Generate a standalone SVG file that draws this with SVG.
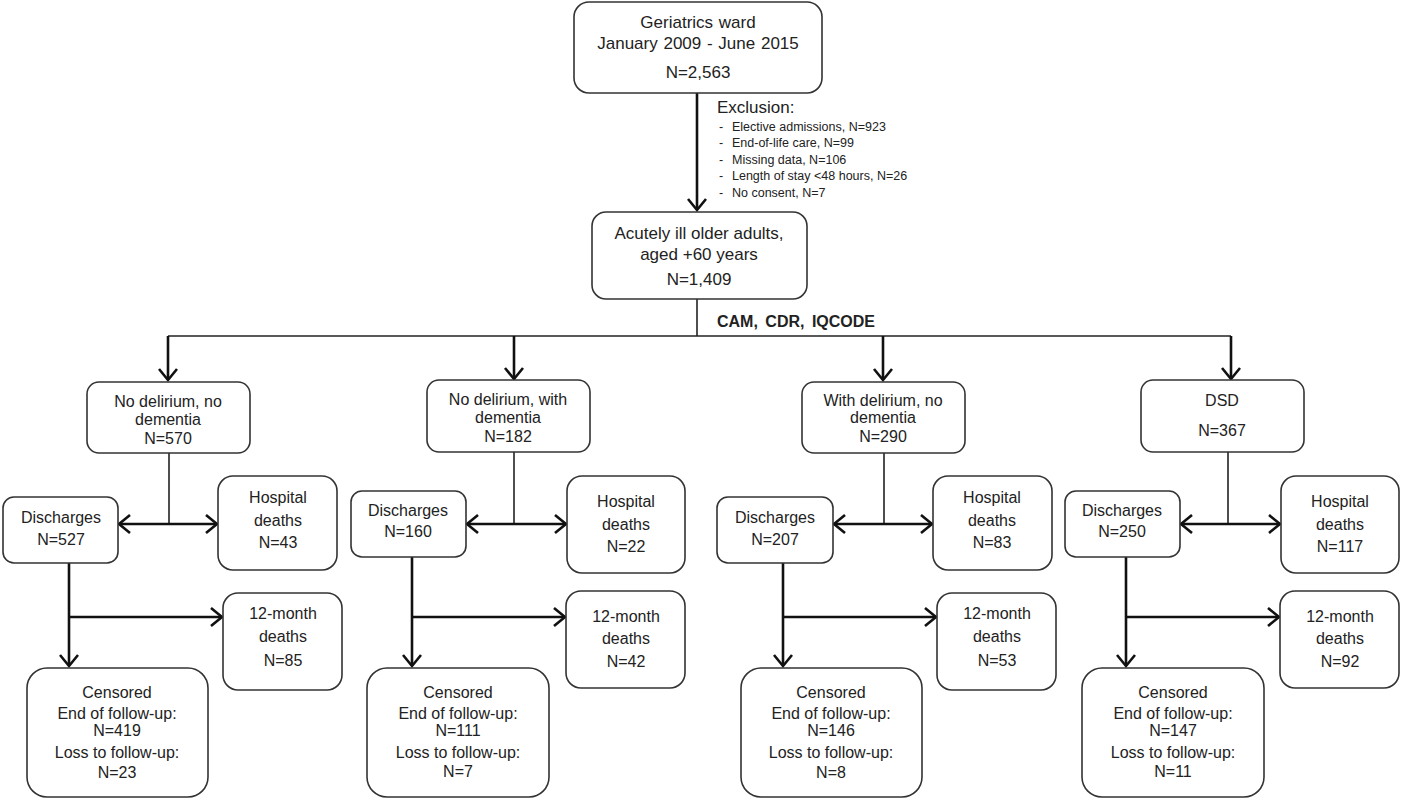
<svg xmlns="http://www.w3.org/2000/svg" width="1403" height="800" viewBox="0 0 1403 800">
<defs>
<style>
.box{fill:#fff;stroke:#333;stroke-width:1.6}
.t{font-family:"Liberation Sans",Arial,sans-serif;font-size:16px;fill:#222;text-anchor:middle}
.tl{font-family:"Liberation Sans",Arial,sans-serif;fill:#222}
.thick{stroke:#111;stroke-width:2.6;fill:none}
.thin{stroke:#222;stroke-width:1.6;fill:none}
</style>
<marker id="ah" markerUnits="userSpaceOnUse" markerWidth="24" markerHeight="24" refX="12" refY="12" orient="auto" viewBox="0 0 24 24">
<path d="M1,3 L12,12 L1,21" fill="none" stroke="#111" stroke-width="2.6"/>
</marker>
</defs>
<rect width="1403" height="800" fill="#fff"/>

<g id="connectors">
<line class="thick" x1="697" y1="93" x2="697" y2="210" marker-end="url(#ah)"/>
<line class="thin" x1="697" y1="299" x2="697" y2="336"/>
<line class="thin" x1="168" y1="336" x2="1231" y2="336"/>
<line class="thick" x1="168" y1="336" x2="168" y2="380" marker-end="url(#ah)"/>
<line class="thick" x1="514" y1="336" x2="514" y2="379" marker-end="url(#ah)"/>
<line class="thick" x1="883" y1="336" x2="883" y2="380" marker-end="url(#ah)"/>
<line class="thick" x1="1231" y1="336" x2="1231" y2="379" marker-end="url(#ah)"/>
<line class="thin" x1="169" y1="453" x2="169" y2="524"/>
<line class="thick" x1="169" y1="524" x2="119" y2="524" marker-end="url(#ah)"/>
<line class="thick" x1="169" y1="524" x2="217" y2="524" marker-end="url(#ah)"/>
<line class="thick" x1="69" y1="563" x2="69" y2="666" marker-end="url(#ah)"/>
<line class="thick" x1="69" y1="617" x2="222" y2="617" marker-end="url(#ah)"/>
<line class="thin" x1="514" y1="452" x2="514" y2="524"/>
<line class="thick" x1="514" y1="524" x2="467" y2="524" marker-end="url(#ah)"/>
<line class="thick" x1="514" y1="524" x2="566" y2="524" marker-end="url(#ah)"/>
<line class="thick" x1="412" y1="557" x2="412" y2="666" marker-end="url(#ah)"/>
<line class="thick" x1="412" y1="617" x2="565" y2="617" marker-end="url(#ah)"/>
<line class="thin" x1="884" y1="453" x2="884" y2="524"/>
<line class="thick" x1="884" y1="524" x2="834" y2="524" marker-end="url(#ah)"/>
<line class="thick" x1="884" y1="524" x2="932" y2="524" marker-end="url(#ah)"/>
<line class="thick" x1="783" y1="563" x2="783" y2="666" marker-end="url(#ah)"/>
<line class="thick" x1="783" y1="617" x2="936" y2="617" marker-end="url(#ah)"/>
<line class="thin" x1="1228" y1="452" x2="1228" y2="524"/>
<line class="thick" x1="1228" y1="524" x2="1181" y2="524" marker-end="url(#ah)"/>
<line class="thick" x1="1228" y1="524" x2="1280" y2="524" marker-end="url(#ah)"/>
<line class="thick" x1="1126" y1="557" x2="1126" y2="666" marker-end="url(#ah)"/>
<line class="thick" x1="1126" y1="617" x2="1279" y2="617" marker-end="url(#ah)"/>
</g>

<g id="ward">
<rect class="box" x="574" y="2" width="248" height="91" rx="15"/>
<text class="t" x="698" y="28" style="font-size:17px" word-spacing="1">Geriatrics ward</text>
<text class="t" x="698" y="49" style="font-size:17px" word-spacing="1">January 2009 - June 2015</text>
<text class="t" x="698" y="78" style="font-size:17px">N=2,563</text>
</g>

<g id="exclusion">
<text class="tl" x="717" y="113" style="font-size:17px">Exclusion:</text>
<g style="font-size:12.5px">
<text class="tl" x="719" y="131">-</text><text class="tl" x="732" y="131">Elective admissions, N=923</text>
<text class="tl" x="719" y="147">-</text><text class="tl" x="732" y="147">End-of-life care, N=99</text>
<text class="tl" x="719" y="164">-</text><text class="tl" x="732" y="164">Missing data, N=106</text>
<text class="tl" x="719" y="180">-</text><text class="tl" x="732" y="180">Length of stay &lt;48 hours, N=26</text>
<text class="tl" x="719" y="197">-</text><text class="tl" x="732" y="197">No consent, N=7</text>
</g>
</g>

<g id="acute">
<rect class="box" x="592" y="212" width="215" height="87" rx="14"/>
<text class="t" x="699" y="239" style="font-size:17px">Acutely ill older adults,</text>
<text class="t" x="699" y="260" style="font-size:17px">aged +60 years</text>
<text class="t" x="699" y="285" style="font-size:17px">N=1,409</text>
</g>

<text class="tl" x="717" y="327" style="font-size:16px;font-weight:bold" word-spacing="3">CAM, CDR, IQCODE</text>

<g id="g1">
<rect class="box" x="87" y="382" width="163" height="71" rx="12"/>
<text class="t" x="168" y="407">No delirium, no</text>
<text class="t" x="168" y="425">dementia</text>
<text class="t" x="168" y="444">N=570</text>
</g>
<g id="d1">
<rect class="box" x="3" y="497" width="115" height="66" rx="11"/>
<text class="t" x="61" y="523">Discharges</text>
<text class="t" x="61" y="545">N=527</text>
</g>
<g id="h1">
<rect class="box" x="218" y="476" width="119" height="94" rx="15"/>
<text class="t" x="278" y="503">Hospital</text>
<text class="t" x="278" y="526">deaths</text>
<text class="t" x="278" y="548">N=43</text>
</g>
<g id="m1">
<rect class="box" x="223" y="593" width="119" height="97" rx="15"/>
<text class="t" x="283" y="619">12-month</text>
<text class="t" x="283" y="642">deaths</text>
<text class="t" x="283" y="666">N=85</text>
</g>
<g id="c1">
<rect class="box" x="27" y="668" width="181" height="129" rx="20"/>
<text class="t" x="117" y="698">Censored</text>
<text class="t" x="117" y="719">End of follow-up:</text>
<text class="t" x="117" y="736">N=419</text>
<text class="t" x="117" y="758">Loss to follow-up:</text>
<text class="t" x="117" y="778">N=23</text>
</g>

<g id="g2">
<rect class="box" x="427" y="380" width="163" height="72" rx="12"/>
<text class="t" x="508" y="405">No delirium, with</text>
<text class="t" x="508" y="423">dementia</text>
<text class="t" x="508" y="442">N=182</text>
</g>
<g id="d2">
<rect class="box" x="351" y="491" width="115" height="66" rx="11"/>
<text class="t" x="408" y="516">Discharges</text>
<text class="t" x="408" y="537">N=160</text>
</g>
<g id="h2">
<rect class="box" x="567" y="476" width="118" height="97" rx="15"/>
<text class="t" x="626" y="507">Hospital</text>
<text class="t" x="626" y="530">deaths</text>
<text class="t" x="626" y="552">N=22</text>
</g>
<g id="m2">
<rect class="box" x="566" y="591" width="119" height="97" rx="15"/>
<text class="t" x="626" y="622">12-month</text>
<text class="t" x="626" y="644">deaths</text>
<text class="t" x="626" y="667">N=42</text>
</g>
<g id="c2">
<rect class="box" x="367" y="668" width="182" height="129" rx="20"/>
<text class="t" x="458" y="698">Censored</text>
<text class="t" x="458" y="719">End of follow-up:</text>
<text class="t" x="458" y="736">N=111</text>
<text class="t" x="458" y="758">Loss to follow-up:</text>
<text class="t" x="458" y="777">N=7</text>
</g>

<g id="g3">
<rect class="box" x="802" y="382" width="163" height="71" rx="12"/>
<text class="t" x="883" y="406">With delirium, no</text>
<text class="t" x="883" y="423">dementia</text>
<text class="t" x="883" y="442">N=290</text>
</g>
<g id="d3">
<rect class="box" x="717" y="497" width="116" height="66" rx="11"/>
<text class="t" x="775" y="523">Discharges</text>
<text class="t" x="775" y="545">N=207</text>
</g>
<g id="h3">
<rect class="box" x="933" y="476" width="119" height="94" rx="15"/>
<text class="t" x="992" y="503">Hospital</text>
<text class="t" x="992" y="526">deaths</text>
<text class="t" x="992" y="548">N=83</text>
</g>
<g id="m3">
<rect class="box" x="937" y="593" width="119" height="97" rx="15"/>
<text class="t" x="997" y="619">12-month</text>
<text class="t" x="997" y="642">deaths</text>
<text class="t" x="997" y="666">N=53</text>
</g>
<g id="c3">
<rect class="box" x="741" y="668" width="181" height="129" rx="20"/>
<text class="t" x="831" y="698">Censored</text>
<text class="t" x="831" y="719">End of follow-up:</text>
<text class="t" x="831" y="736">N=146</text>
<text class="t" x="831" y="758">Loss to follow-up:</text>
<text class="t" x="831" y="778">N=8</text>
</g>

<g id="g4">
<rect class="box" x="1141" y="380" width="163" height="72" rx="12"/>
<text class="t" x="1222" y="406">DSD</text>
<text class="t" x="1222" y="436">N=367</text>
</g>
<g id="d4">
<rect class="box" x="1065" y="491" width="115" height="66" rx="11"/>
<text class="t" x="1122" y="516">Discharges</text>
<text class="t" x="1122" y="537">N=250</text>
</g>
<g id="h4">
<rect class="box" x="1281" y="476" width="118" height="97" rx="15"/>
<text class="t" x="1340" y="507">Hospital</text>
<text class="t" x="1340" y="530">deaths</text>
<text class="t" x="1340" y="552">N=117</text>
</g>
<g id="m4">
<rect class="box" x="1280" y="591" width="119" height="97" rx="15"/>
<text class="t" x="1340" y="622">12-month</text>
<text class="t" x="1340" y="644">deaths</text>
<text class="t" x="1340" y="667">N=92</text>
</g>
<g id="c4">
<rect class="box" x="1082" y="668" width="182" height="129" rx="20"/>
<text class="t" x="1173" y="698">Censored</text>
<text class="t" x="1173" y="719">End of follow-up:</text>
<text class="t" x="1173" y="736">N=147</text>
<text class="t" x="1173" y="758">Loss to follow-up:</text>
<text class="t" x="1173" y="777">N=11</text>
</g>
</svg>
